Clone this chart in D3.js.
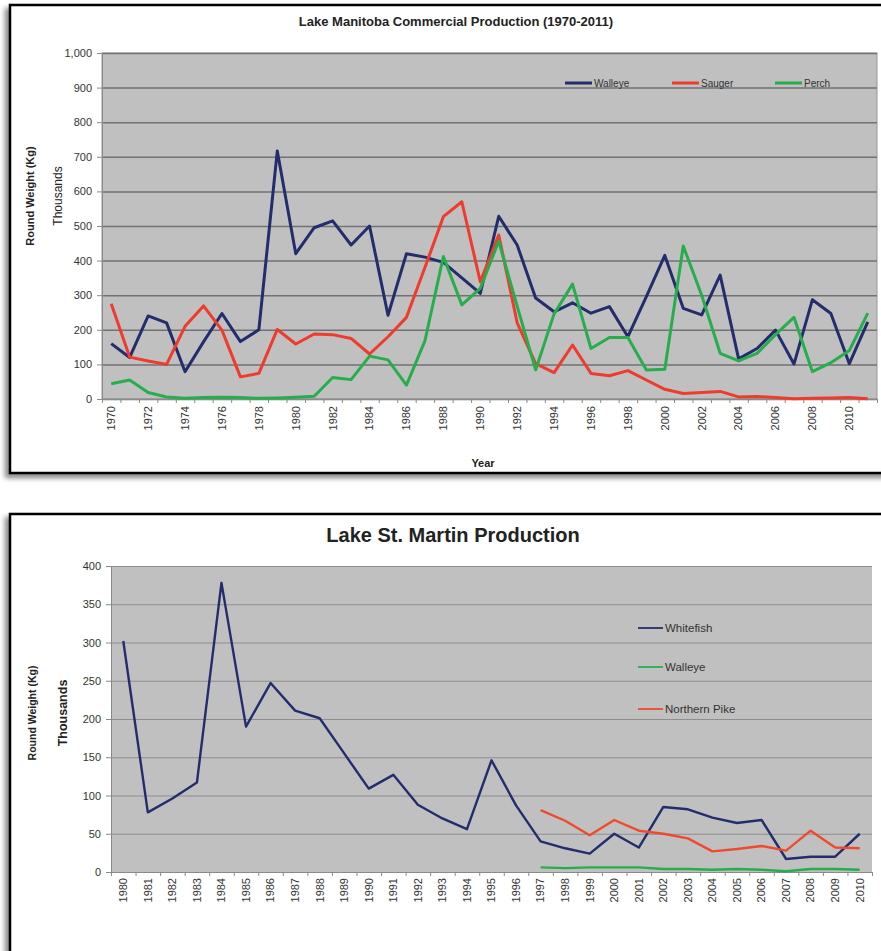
<!DOCTYPE html>
<html>
<head>
<meta charset="utf-8">
<script src="https://cdn.jsdelivr.net/npm/d3@7"></script>
<style>
  body { margin: 0; background: #fff; }
  svg { display: block; font-family: "Liberation Sans", Arial, sans-serif; }
</style>
</head>
<body>
<div id="chart"></div>
<script>
// ---- Lake Manitoba (thousands of kg) ----
var manitobaYears = d3.range(1970, 2012);
var manitobaWalleye = [160, 120, 240, 220, 79, 165, 247, 166, 200, 717, 420, 495, 515, 445, 500, 242, 420, 410, 395, 350,
	305, 528, 445, 292, 252, 278, 248, 267, 180, 296, 415, 262, 243, 358, 116, 146, 199, 101, 287, 247, 102, 223];
var manitobaSauger = [275, 121, 110, 100, 210, 269, 199, 64, 74, 201, 159, 188, 186, 175, 130, 180, 236, 380, 527, 570,
	339, 474, 220, 102, 76, 156, 74, 67, 82, 55, 28, 16, 19, 22, 6, 7, 4, 1, 2, 3, 4, 1];
var manitobaPerch = [44, 55, 19, 6, 2, 4, 5, 4, 2, 3, 5, 8, 62, 56, 124, 113, 40, 168, 412, 272,
	320, 456, 268, 84, 246, 332, 146, 178, 178, 84, 86, 442, 300, 132, 110, 132, 186, 236, 79, 105, 140, 248];
var manitobaTicks = d3.range(0, 1001, 100);

// ---- Lake St. Martin (thousands of kg) ----
var martinYears = d3.range(1980, 2011);
var martinWhitefish = [302, 78, 96, 117, 378, 190, 247, 211, 201, 155, 109, 127, 88, 70, 56, 146, 87,
	40, 31, 24, 50, 32, 85, 82, 71, 64, 68, 17, 20, 20, 50];
// walleye and pike only reported from 1997 on
var martinWalleye = [null, null, null, null, null, null, null, null, null, null, null, null, null, null, null, null, null,
	6, 5, 6, 6, 6, 4, 4, 3, 4, 3, 1, 4, 4, 3];
var martinPike = [null, null, null, null, null, null, null, null, null, null, null, null, null, null, null, null, null,
	81, 67, 48, 68, 54, 50, 44, 27, 30, 34, 28, 54, 32, 31];
var martinTicks = d3.range(0, 401, 50);

var navy = "#232d6e", red = "#ee3b2b", green = "#27ae4c";

var svg = d3.select("#chart").append("svg")
	.attr("width", 881)
	.attr("height", 951);

// drop shadow for the frames
var filter = svg.append("defs").append("filter")
	.attr("id", "shadow")
	.attr("x", "-5%").attr("y", "-5%")
	.attr("width", "110%").attr("height", "110%");
filter.append("feDropShadow")
	.attr("dx", -4).attr("dy", 4)
	.attr("stdDeviation", 2.5)
	.attr("flood-color", "#000")
	.attr("flood-opacity", 0.45);

function drawChart(cfg) {
	var g = svg.append("g");

	// outer frame (runs past the right edge of the page)
	g.append("rect")
		.attr("x", cfg.frame[0]).attr("y", cfg.frame[1])
		.attr("width", cfg.frame[2]).attr("height", cfg.frame[3])
		.attr("fill", "#fff")
		.attr("stroke", "#000")
		.attr("stroke-width", 2.5)
		.attr("filter", "url(#shadow)");

	var x = d3.scaleBand()
		.domain(cfg.years)
		.range([cfg.left, cfg.right]);
	var xEdge = d3.scaleLinear()
		.domain([0, cfg.years.length])
		.range([cfg.left, cfg.right]);
	var y = d3.scaleLinear()
		.domain([0, cfg.max])
		.range([cfg.bottom, cfg.top]);

	// plot area
	g.append("rect")
		.attr("x", cfg.left).attr("y", cfg.top)
		.attr("width", cfg.right - cfg.left)
		.attr("height", cfg.bottom - cfg.top)
		.attr("fill", "#c0c0c0")
		.attr("stroke", cfg.plotBorder)
		.attr("stroke-width", 1);

	// gridlines
	var grid = g.append("g")
		.attr("transform", "translate(" + cfg.left + ",0)")
		.call(d3.axisLeft(y).tickValues(cfg.ticks).tickSize(-(cfg.right - cfg.left)).tickFormat(""));
	grid.select(".domain").remove();
	grid.selectAll("line")
		.attr("stroke", cfg.gridColor)
		.attr("stroke-width", cfg.gridWidth);

	// y axis
	var yAxis = g.append("g")
		.attr("transform", "translate(" + cfg.left + ",0)")
		.call(d3.axisLeft(y).tickValues(cfg.ticks).tickSize(5).tickPadding(5).tickFormat(d3.format(",")));
	yAxis.select(".domain").attr("stroke", "#8a8a8a");
	yAxis.selectAll("line").attr("stroke", "#8a8a8a");
	yAxis.selectAll("text")
		.attr("fill", "#333")
		.style("font-size", "11px");

	// x axis: tick marks between categories
	var xTicks = g.append("g")
		.attr("transform", "translate(0," + cfg.bottom + ")")
		.call(d3.axisBottom(xEdge).tickValues(d3.range(cfg.years.length + 1)).tickSize(4).tickFormat(""));
	xTicks.select(".domain").attr("stroke", "#8a8a8a");
	xTicks.selectAll("line").attr("stroke", "#8a8a8a");

	// rotated year labels
	g.append("g")
		.selectAll("text")
		.data(cfg.years.filter(function(d, i) { return i % cfg.labelStep === 0; }))
		.join("text")
		.attr("transform", function(d) {
			return "translate(" + (x(d) + x.bandwidth() / 2) + "," + cfg.labelTop + ") rotate(-90)";
		})
		.attr("dy", "0.35em")
		.attr("text-anchor", "end")
		.attr("fill", "#333")
		.style("font-size", "11px")
		.text(function(d) { return d; });

	// series
	var line = d3.line()
		.defined(function(d) { return d.v !== null; })
		.x(function(d) { return x(d.year) + x.bandwidth() / 2; })
		.y(function(d) { return y(d.v); });

	cfg.series.forEach(function(s) {
		var pts = cfg.years.map(function(yr, i) { return {year: yr, v: s.values[i]}; });
		g.append("path")
			.datum(pts)
			.attr("fill", "none")
			.attr("stroke", s.color)
			.attr("stroke-width", cfg.lineWidth)
			.attr("stroke-linejoin", "round")
			.attr("d", line);
	});

	// legend
	cfg.series.forEach(function(s, i) {
		var lx = cfg.legend[i][0], ly = cfg.legend[i][1];
		g.append("line")
			.attr("x1", lx).attr("x2", lx + cfg.legendLen)
			.attr("y1", ly).attr("y2", ly)
			.attr("stroke", s.color)
			.attr("stroke-width", cfg.legendWidth);
		g.append("text")
			.attr("x", lx + cfg.legendLen + 2)
			.attr("y", ly)
			.attr("dy", "0.35em")
			.attr("fill", "#333")
			.style("font-size", cfg.legendFont)
			.text(s.name);
	});

	// titles
	g.append("text")
		.attr("x", cfg.titlePos[0]).attr("y", cfg.titlePos[1])
		.attr("text-anchor", "middle")
		.attr("fill", "#222")
		.style("font-size", cfg.titleFont)
		.style("font-weight", "bold")
		.text(cfg.title);

	g.append("text")
		.attr("transform", "translate(" + cfg.yTitle[0] + "," + cfg.yTitle[2] + ") rotate(-90)")
		.attr("text-anchor", "middle")
		.attr("dy", "0.35em")
		.attr("fill", "#222")
		.style("font-size", cfg.yTitleFont)
		.style("font-weight", "bold")
		.text("Round Weight (Kg)");

	g.append("text")
		.attr("transform", "translate(" + cfg.yTitle[1] + "," + cfg.yTitle[2] + ") rotate(-90)")
		.attr("text-anchor", "middle")
		.attr("dy", "0.35em")
		.attr("fill", "#222")
		.style("font-size", cfg.thousandsFont)
		.style("font-weight", cfg.thousandsWeight)
		.text("Thousands");

	if (cfg.xTitle) {
		g.append("text")
			.attr("x", cfg.xTitle[0]).attr("y", cfg.xTitle[1])
			.attr("text-anchor", "middle")
			.attr("fill", "#222")
			.style("font-size", "11px")
			.style("font-weight", "bold")
			.text("Year");
	}
}

drawChart({
	frame: [10, 5, 900, 468],
	left: 102, right: 877, top: 53, bottom: 399,
	years: manitobaYears, max: 1000, ticks: manitobaTicks,
	plotBorder: "#999", gridColor: "#727272", gridWidth: 1.5,
	labelStep: 2, labelTop: 406, lineWidth: 3,
	series: [
		{name: "Walleye", color: navy, values: manitobaWalleye},
		{name: "Sauger", color: red, values: manitobaSauger},
		{name: "Perch", color: green, values: manitobaPerch}
	],
	legend: [[565, 83], [672, 83], [775, 83]],
	legendLen: 27, legendWidth: 3, legendFont: "10px",
	title: "Lake Manitoba Commercial Production (1970-2011)",
	titlePos: [456, 26], titleFont: "13px",
	yTitle: [30, 58, 196], yTitleFont: "11px", thousandsFont: "12px", thousandsWeight: "normal",
	xTitle: [483, 467]
});

drawChart({
	frame: [10, 514, 900, 460],
	left: 111, right: 872, top: 566, bottom: 872,
	years: martinYears, max: 400, ticks: martinTicks,
	plotBorder: "none", gridColor: "#8e8e8e", gridWidth: 1.2,
	labelStep: 1, labelTop: 878, lineWidth: 2.4,
	series: [
		{name: "Whitefish", color: navy, values: martinWhitefish},
		{name: "Walleye", color: green, values: martinWalleye},
		{name: "Northern Pike", color: "#ef4a2e", values: martinPike}
	],
	legend: [[638, 628], [638, 667], [638, 709]],
	legendLen: 25, legendWidth: 1.8, legendFont: "11.5px",
	title: "Lake St. Martin Production",
	titlePos: [453, 542], titleFont: "20px",
	yTitle: [32, 63, 713], yTitleFont: "10.5px", thousandsFont: "12.5px", thousandsWeight: "bold",
	xTitle: null
});
</script>
</body>
</html>
